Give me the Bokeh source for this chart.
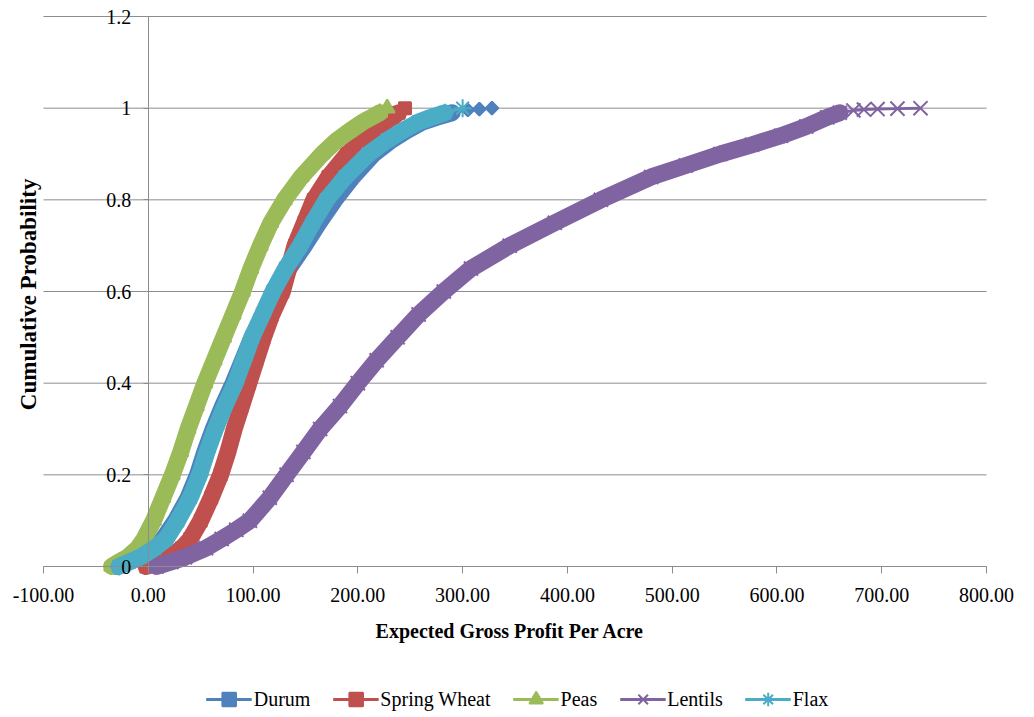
import numpy as np
from bokeh.plotting import figure
from bokeh.models import FixedTicker, Legend, LegendItem, Label
from bokeh.embed import file_html
from bokeh.resources import INLINE

# ---------------- data ----------------
x_ticks = [-100, 0, 100, 200, 300, 400, 500, 600, 700, 800]
x_labels = ["-100.00", "0.00", "100.00", "200.00", "300.00", "400.00",
            "500.00", "600.00", "700.00", "800.00"]
y_ticks = [0, 0.2, 0.4, 0.6, 0.8, 1, 1.2]
y_labels = ["0", "0.2", "0.4", "0.6", "0.8", "1", "1.2"]

durum_p = [0, 0.01, 0.02, 0.04, 0.06, 0.1, 0.15, 0.2, 0.25, 0.3, 0.35, 0.4, 0.45,
           0.5, 0.55, 0.6, 0.65, 0.7, 0.75, 0.8, 0.85, 0.9, 0.93, 0.95, 0.97,
           0.98, 0.99, 0.996, 0.998, 1.0]
durum_x = [-30, -20, -10, 4, 14, 26, 38, 47, 54, 62, 71, 81, 90,
           99, 110, 121, 134, 149, 163, 178, 195, 215, 232, 246, 262,
           275, 290, 305, 316, 328]

wheat_p = [0, 0.01, 0.02, 0.04, 0.06, 0.1, 0.15, 0.2, 0.25, 0.3, 0.35, 0.4, 0.45,
           0.5, 0.55, 0.6, 0.65, 0.7, 0.75, 0.8, 0.85, 0.9, 0.93, 0.95, 0.97,
           0.98, 0.99, 1.0]
wheat_x = [-2, 8, 20, 32, 40, 50, 60, 69, 76, 82, 89, 96, 103,
           110, 118, 128, 134, 140, 149, 158, 172, 190, 204, 215, 226,
           233, 239, 245]

peas_p = [0, 0.01, 0.02, 0.04, 0.06, 0.1, 0.15, 0.2, 0.25, 0.3, 0.35, 0.4, 0.45,
          0.5, 0.55, 0.6, 0.65, 0.7, 0.75, 0.8, 0.85, 0.9, 0.93, 0.95, 0.97,
          0.98, 0.99, 1.0]
peas_x = [-35, -28, -20, -10, -4, 5, 14, 23, 31, 38, 46, 54, 63,
          72, 81, 90, 98, 107, 117, 130, 146, 166, 180, 192, 205,
          213, 221, 228]

lentils_p = [0, 0.01, 0.02, 0.04, 0.06, 0.08, 0.1, 0.15, 0.2, 0.25, 0.3, 0.35,
             0.4, 0.45, 0.5, 0.55, 0.6, 0.65, 0.7, 0.75, 0.8, 0.85, 0.875,
             0.9, 0.92, 0.94, 0.96, 0.98, 0.99, 0.995, 0.997, 0.998, 0.999, 1.0]
lentils_x = [8, 22, 35, 55, 70, 84, 97, 116, 132, 148, 164, 183,
             200, 218, 238, 258, 282, 308, 345, 388, 432, 480, 513,
             546, 576, 604, 628, 648, 660, 673, 683, 696, 715, 737]

flax_p = [0, 0.01, 0.02, 0.04, 0.06, 0.1, 0.15, 0.2, 0.25, 0.3, 0.35, 0.4, 0.45,
          0.5, 0.55, 0.6, 0.65, 0.7, 0.75, 0.8, 0.85, 0.9, 0.93, 0.95, 0.97,
          0.98, 0.99, 1.0]
flax_x = [-28, -18, -8, 6, 17, 28, 40, 49, 56, 64, 73, 83, 91,
          99, 109, 119, 131, 145, 157, 170, 188, 210, 228, 242, 258,
          270, 283, 300]

# ---------------- layout (pixels) ----------------
W, H = 1034, 717
PLOT_L, PLOT_R, PLOT_T, PLOT_B = 43, 986, 16, 566   # plot area in the page

FONT = "Liberation Serif"
GRAY = "#8C8C8C"

x0, x1 = x_ticks[0], x_ticks[-1]
y0, y1 = y_ticks[0], y_ticks[-1]
ux = (PLOT_R - PLOT_L) / (x1 - x0)
uy = (PLOT_B - PLOT_T) / (y1 - y0)
x_range = (x0 - PLOT_L / ux, x1 + (W - PLOT_R) / ux)
y_range = (y0 - (H - PLOT_B) / uy, y1 + PLOT_T / uy)

p = figure(frame_width=W, frame_height=H, x_range=x_range, y_range=y_range,
           output_backend="svg", toolbar_location=None, min_border=0)
p.outline_line_color = None
p.background_fill_color = "white"
p.border_fill_color = "white"
p.xgrid.visible = False
p.ygrid.visible = False

# horizontal gridlines across the plot area
p.segment(x0=[x0] * len(y_ticks), x1=[x1] * len(y_ticks), y0=y_ticks, y1=y_ticks,
          line_color=GRAY, line_width=1)

# y axis crossing at x = 0
yax = p.yaxis[0]
yax.fixed_location = 0
yax.bounds = (y0, y1)
yax.ticker = FixedTicker(ticks=y_ticks)
yax.major_label_overrides = dict(zip(y_ticks, y_labels))
yax.axis_line_color = GRAY
yax.major_tick_line_color = GRAY
yax.major_tick_out = 5
yax.major_tick_in = 0
yax.minor_tick_line_color = None
yax.major_label_standoff = 12
yax.major_label_text_font = FONT
yax.major_label_text_font_size = "20px"
yax.major_label_text_color = "black"

# x axis along y = 0
xax = p.xaxis[0]
xax.fixed_location = 0
xax.bounds = (x0, x1)
xax.ticker = FixedTicker(ticks=x_ticks)
xax.major_label_overrides = dict(zip(x_ticks, x_labels))
xax.axis_line_color = GRAY
xax.major_tick_line_color = GRAY
xax.major_tick_out = 7
xax.major_tick_in = 0
xax.minor_tick_line_color = None
xax.major_label_standoff = 14
xax.major_label_text_font = FONT
xax.major_label_text_font_size = "20px"
xax.major_label_text_color = "black"
xax.axis_label = "Expected  Gross  Profit Per Acre"
xax.axis_label_text_font = FONT
xax.axis_label_text_font_size = "20px"
xax.axis_label_text_font_style = "bold"
xax.axis_label_text_color = "black"
xax.axis_label_standoff = 15

p.add_layout(Label(x=x0, y=(y0 + y1) / 2, x_offset=-15, text="Cumulative  Probability",
                   angle=np.pi / 2, text_align="center", text_baseline="middle",
                   text_font=FONT, text_font_size="23px", text_font_style="bold",
                   text_color="black"))

series = [
    ("Durum", durum_x, durum_p, "#4F81BD", "square", np.pi / 4, 9),
    ("Spring Wheat", wheat_x, wheat_p, "#C0504D", "square", 0, 12),
    ("Peas", peas_x, peas_p, "#9BBB59", "triangle", 0, 15),
    ("Lentils", lentils_x, lentils_p, "#8064A2", "x", 0, 20),
    ("Flax", flax_x, flax_p, "#4BACC6", "asterisk", 0, 18),
]

items = []
for name, xs, ps, color, marker, angle, size in series:
    # dense band formed by the overlapping simulation markers
    band = [(x, q) for x, q in zip(xs, ps) if q <= 0.99]
    p.line([b[0] for b in band], [b[1] for b in band], line_color=color,
           line_width=17, line_cap="round", line_join="round")
    ln = p.line(xs, ps, line_color=color, line_width=3)
    sc = p.scatter(xs, ps, marker=marker, size=size, angle=angle,
                   fill_color=color, line_color=color, line_width=2)
    items.append(LegendItem(label=name, renderers=[ln, sc]))

legend = Legend(items=items, orientation="horizontal", location="bottom",
                border_line_color=None, background_fill_alpha=0,
                label_text_font=FONT, label_text_font_size="20px",
                label_text_color="black", glyph_width=46, glyph_height=34,
                label_standoff=2, spacing=22, padding=0, margin=1)
p.add_layout(legend)

open("out.html", "w").write(file_html(p, INLINE))
